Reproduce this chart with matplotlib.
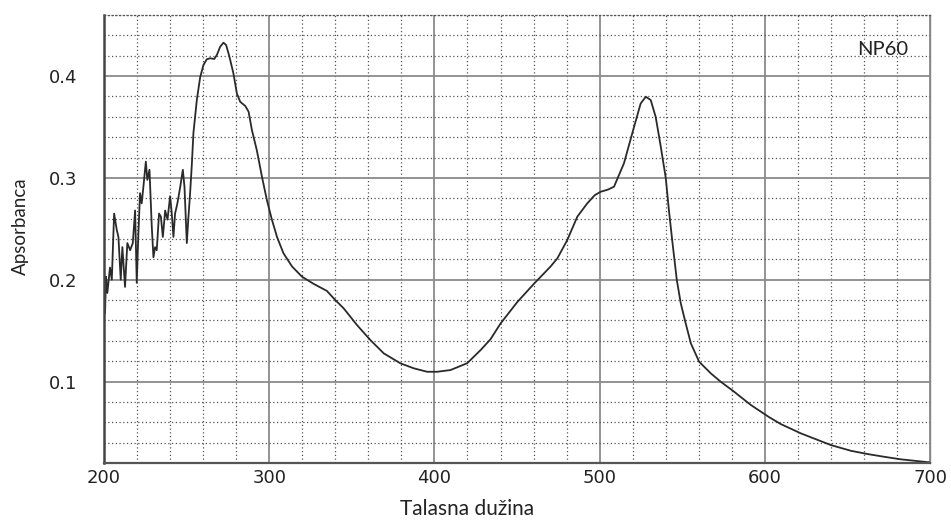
import matplotlib
matplotlib.use("Agg")
import matplotlib.pyplot as plt
from matplotlib.ticker import MultipleLocator

# Absorption spectrum (wavelength in nm, absorbance)
wavelength = [
    200.6, 201.2, 202.0, 203.6, 204.7, 206.1, 207.7, 208.7, 210.1, 211.1,
    212.7, 214.1, 215.8, 217.4, 218.8, 219.8, 220.8, 221.8, 222.8, 223.8,
    225.3, 226.2, 227.5, 228.9, 229.9, 230.9, 231.9, 233.3, 234.4, 235.6,
    237.0, 238.4, 240.0, 241.0, 242.0, 243.0, 244.4, 246.1, 247.7, 248.7,
    250.1, 251.1, 252.1, 253.2, 254.1, 256.2, 258.2, 260.2, 262.2, 264.2,
    266.7, 268.3, 270.3, 272.3, 273.9, 275.9, 278.3, 280.4, 282.4, 285.5,
    287.5, 289.5, 292.5, 295.6, 298.6, 301.6, 304.7, 308.6, 313.8, 319.8,
    326.8, 334.9, 340.0, 345.0, 353.1, 361.2, 369.3, 379.4, 387.5, 395.6,
    401.6, 409.7, 419.8, 428.0, 433.9, 440.0, 450.1, 460.2, 470.3, 474.4,
    480.4, 486.5, 492.5, 497.0, 500.6, 505.0, 508.7, 514.7, 520.8, 524.8,
    527.9, 530.9, 533.9, 537.0, 540.0, 542.0, 544.1, 546.7, 549.1, 552.1,
    555.2, 560.2, 567.3, 573.3, 581.4, 591.5, 602.6, 609.7, 621.8, 640.0,
    652.1, 662.2, 672.3, 682.4, 700.0,
]
absorbance = [
    0.167, 0.203, 0.187, 0.212, 0.200, 0.265, 0.249, 0.242, 0.200, 0.232,
    0.193, 0.236, 0.229, 0.236, 0.268, 0.197, 0.246, 0.285, 0.275, 0.291,
    0.316, 0.298, 0.308, 0.252, 0.222, 0.232, 0.229, 0.265, 0.262, 0.242,
    0.268, 0.259, 0.282, 0.265, 0.242, 0.265, 0.275, 0.291, 0.308, 0.291,
    0.236, 0.262, 0.285, 0.315, 0.344, 0.377, 0.399, 0.411, 0.4165, 0.4175,
    0.4168, 0.4207, 0.4289, 0.4328, 0.4305, 0.419, 0.4027, 0.383, 0.3748, 0.3706,
    0.365, 0.347, 0.327, 0.301, 0.278, 0.259, 0.242, 0.226, 0.213, 0.203,
    0.196, 0.189, 0.180, 0.172, 0.1555, 0.1408, 0.1277, 0.1179, 0.113, 0.1096,
    0.1096, 0.1113, 0.118, 0.131, 0.1415, 0.157, 0.178, 0.196, 0.213, 0.221,
    0.239, 0.262, 0.275, 0.283, 0.2864, 0.2885, 0.2914, 0.3143, 0.350, 0.373,
    0.3797, 0.3765, 0.360, 0.3306, 0.300, 0.267, 0.236, 0.1997, 0.1768, 0.157,
    0.1375, 0.1195, 0.108, 0.0998, 0.090, 0.077, 0.065, 0.0582, 0.0491, 0.0376,
    0.0320, 0.0288, 0.0261, 0.0236, 0.0206,
]

x_ticks = [200, 300, 400, 500, 600, 700]
y_ticks = [0.1, 0.2, 0.3, 0.4]
sample_label = "NP60"
x_title = "Talasna dužina"
y_title = "Apsorbanca"

fig = plt.figure(figsize=(9.51, 5.22), dpi=100)
ax = fig.add_axes([0.1094, 0.1130, 0.8686, 0.8583])

ax.set_xlim(200, 700)
ax.set_ylim(0.02, 0.46)

# chart-paper style grid: solid majors, dotted minors
ax.xaxis.set_major_locator(MultipleLocator(100))
ax.xaxis.set_minor_locator(MultipleLocator(20))
ax.yaxis.set_major_locator(MultipleLocator(0.1))
ax.yaxis.set_minor_locator(MultipleLocator(0.02))
ax.grid(which="minor", color="#555555", linestyle=(0, (1, 2)), linewidth=0.9)
ax.grid(which="major", color="#8a8a8a", linestyle="-", linewidth=1.3)
ax.set_axisbelow(True)

ax.plot(wavelength, absorbance, color="#2a2a2a", linewidth=1.3)

ax.set_xticks(x_ticks)
ax.set_xticklabels([str(v) for v in x_ticks])
ax.set_yticks(y_ticks)
ax.set_yticklabels([f"{v:.1f}" for v in y_ticks])
ax.tick_params(which="both", length=0)
ax.tick_params(axis="x", pad=4, labelsize=13, colors="#222222")
ax.tick_params(axis="y", pad=19, labelsize=13, colors="#222222")
for lab in ax.get_xticklabels() + ax.get_yticklabels():
    lab.set_fontfamily("DejaVu Sans")

ax.spines["left"].set_color("#444444")
ax.spines["left"].set_linewidth(1.8)
ax.spines["bottom"].set_color("#555555")
ax.spines["bottom"].set_linewidth(1.6)
ax.spines["right"].set_color("#888888")
ax.spines["right"].set_linewidth(1.0)
ax.spines["top"].set_color("#555555")
ax.spines["top"].set_linestyle((0, (1, 2)))
ax.spines["top"].set_linewidth(0.9)

ax.text(0.973, 0.922, sample_label, transform=ax.transAxes, ha="right", va="center",
        fontsize=14.5, family="Lato", color="#222222")

fig.text(0.022, 0.567, y_title, rotation=90, ha="center", va="center",
         fontsize=13.5, family="Lato", color="#222222")
fig.text(0.491, 0.025, x_title, ha="center", va="center",
         fontsize=15, family="Lato", color="#222222")

fig.savefig("out.png", dpi=100, facecolor="white")
